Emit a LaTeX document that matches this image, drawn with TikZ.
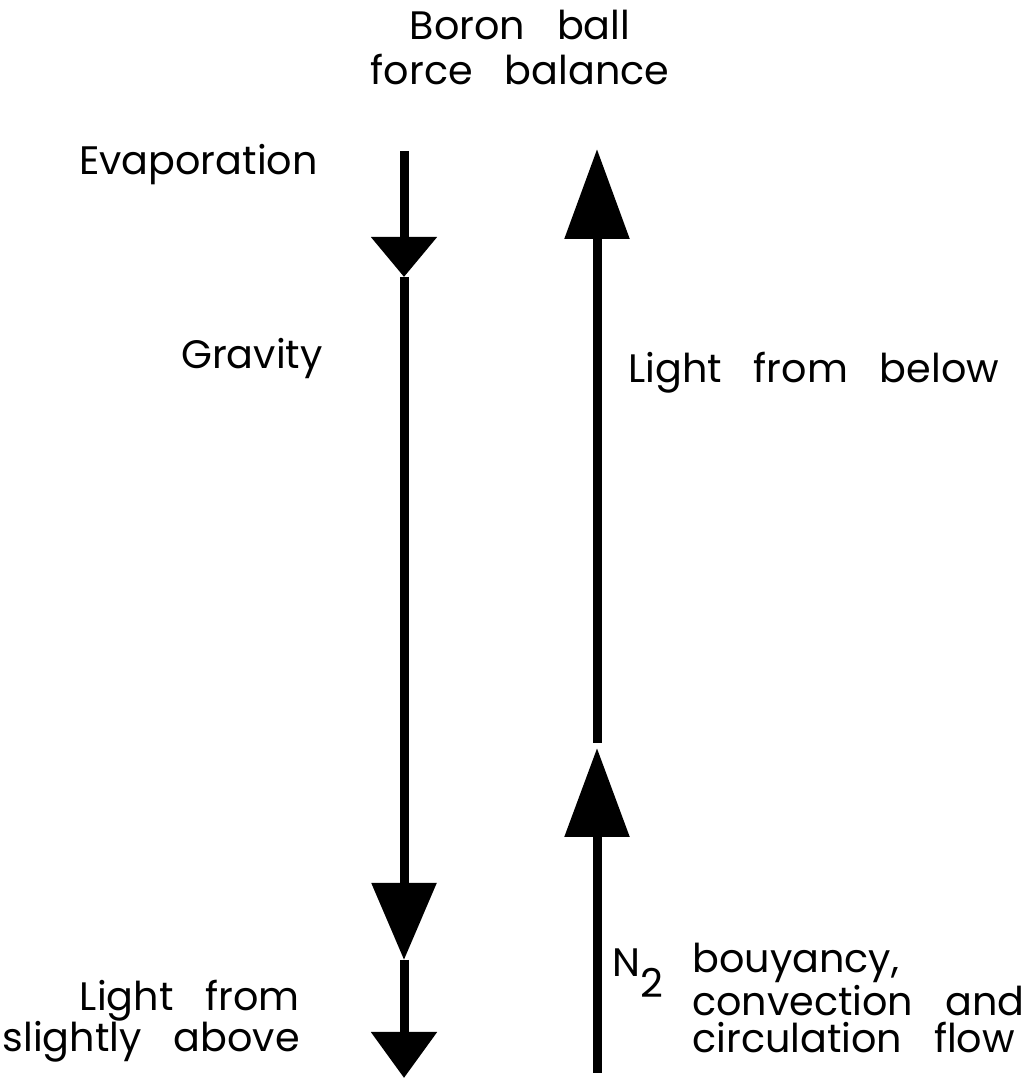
\documentclass[tikz,border=0pt]{standalone}
\usepackage{fontspec}
\setmainfont{Poppins}[WordSpace=3]
\usetikzlibrary{arrows.meta, positioning}

\begin{document}
\begin{tikzpicture}[
        every node/.style={inner sep=0pt, font=\fontsize{22.6}{24}\selectfont},
        force/.style={line width=0.18cm, black},
        forcehead/.style 2 args={-{Triangle[length=#1, width=#2]}}
    ]
    \useasboundingbox (0,0) rectangle (20.64,21.6);

    % left side: forces pulling down
    \coordinate (ltop) at (8.08,18.58);
    \coordinate (levap) at (8.08,16.06);
    \coordinate (lgrav) at (8.08,2.4);
    \coordinate (lbot) at (8.08,0.04);
    % right side: forces pushing up
    \coordinate (rbot) at (11.94,0.14);
    \coordinate (rflow) at (11.94,6.64);
    \coordinate (rmid) at (11.94,6.74);
    \coordinate (rtop) at (11.94,18.62);

    \draw[force, forcehead={0.8cm}{1.28cm}] (ltop) -- (levap);
    \draw[force, forcehead={1.54cm}{1.26cm}] (levap) -- (lgrav);
    \draw[force, forcehead={0.92cm}{1.28cm}] (lgrav) -- (lbot);
    \draw[force, forcehead={1.78cm}{1.26cm}] (rbot) -- (rflow);
    \draw[force, forcehead={1.8cm}{1.26cm}] (rmid) -- (rtop);

    % labels (base of a multi-line node is its last line)
    \node[align=center, anchor=base, font=\fontsize{22.6}{25.6}\selectfont] (title) at (10.4,19.9) {Boron ball\\force balance};
    \node[anchor=base east] (evap) at (6.36,18.1) {Evaporation};
    \node[anchor=base east] (grav) at (6.46,14.22) {Gravity};
    \node[anchor=base west] (below) at (12.56,13.94) {Light from below};
    \node[align=right, anchor=base east, font=\fontsize{22.6}{23.9}\selectfont] (above) at (6.0,0.56) {Light from\\slightly above};
    \node[anchor=base west] (ntwo) at (12.24,2.06) {N\raisebox{-0.42cm}{2}};
    \node[align=left, anchor=base west, font=\fontsize{22.6}{21.6}\selectfont] (flow) at (13.84,0.54) {bouyancy,\\convection and\\circulation flow};
\end{tikzpicture}
\end{document}
